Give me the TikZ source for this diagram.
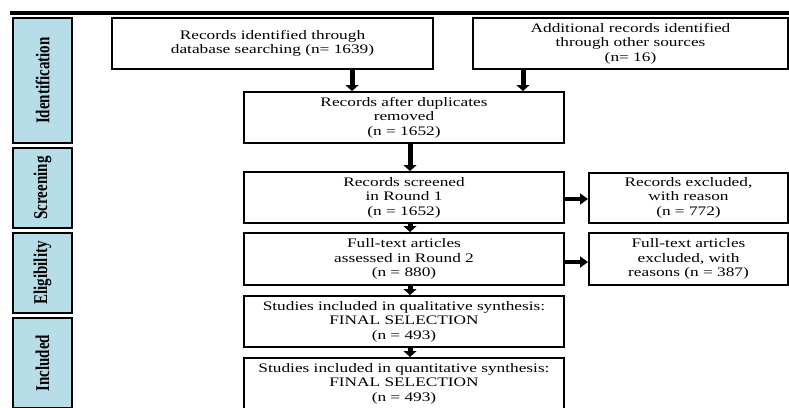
\documentclass[tikz,border=0pt]{standalone}
\usepackage{fontspec}
\setmainfont{Liberation Serif}[FakeStretch=1.33]
\newfontfamily\phasefont{Liberation Serif}
\usetikzlibrary{arrows.meta}
\definecolor{phaseblue}{RGB}{183,222,232}
\tikzset{
  box/.style={draw, line width=2pt, align=center, inner sep=0pt, font=\fontsize{13}{14.5}\selectfont},
  phase/.style={draw, line width=2.6pt, fill=phaseblue, rotate=90, inner sep=0pt, minimum height=59pt,
    font=\phasefont\bfseries\fontsize{15}{16}\selectfont},
  arr/.style={line width=5pt, -{Triangle[width=13pt,length=6pt]}},
  sidearr/.style={line width=4pt, -{Triangle[width=11pt,length=8pt]}},
}
\begin{document}
\begin{tikzpicture}[x=1pt,y=-1pt]
  \useasboundingbox (0,0) rectangle (789,407);
  \clip (0,0) rectangle (789,407);
  % top rule
  \draw[line width=4pt] (10,13) -- (789,13);
  % phases
  \node[phase, minimum width=125pt] (ident) at (42.5,80.5) {\scalebox{1}[1.3]{Identification}};
  \node[phase, minimum width=80pt] (screen) at (42.5,188) {\scalebox{1}[1.3]{Screening}};
  \node[phase, minimum width=80pt] (elig) at (42.5,273) {\scalebox{1}[1.3]{Eligibility}};
  \node[phase, minimum width=90pt] (incl) at (42.5,363) {\scalebox{1}[1.3]{Included}};
  % boxes
  \node[box, minimum width=321pt, minimum height=51pt] (db) at (272.5,43.5)
    {Records identified through\\database searching (n= 1639)};
  \node[box, minimum width=315pt, minimum height=51pt] (other) at (630.5,43.5)
    {Additional records identified\\through other sources\\(n= 16)};
  \node[box, minimum width=320pt, minimum height=51pt] (dup) at (404,117.5)
    {Records after duplicates\\removed\\(n = 1652)};
  \node[box, minimum width=320pt, minimum height=51pt] (round1) at (404,197.5)
    {Records screened\\in Round 1\\(n = 1652)};
  \node[box, minimum width=199pt, minimum height=50pt] (excl1) at (688.5,197.5)
    {Records excluded,\\with reason\\(n = 772)};
  \node[box, minimum width=320pt, minimum height=52pt] (round2) at (404,259)
    {Full-text articles\\assessed in Round 2\\(n = 880)};
  \node[box, minimum width=199pt, minimum height=52pt] (excl2) at (688.5,259)
    {Full-text articles\\excluded, with\\reasons (n = 387)};
  \node[box, minimum width=320pt, minimum height=51pt] (qual) at (404,321.5)
    {Studies included in qualitative synthesis:\\FINAL SELECTION\\(n = 493)};
  \node[box, minimum width=320pt, minimum height=51pt] (quant) at (404,383.5)
    {Studies included in quantitative synthesis:\\FINAL SELECTION\\(n = 493)};
  % arrows
  \draw[arr] ([xshift=79.5pt]db.south) -- ([xshift=-52pt]dup.north);
  \draw[arr] ([xshift=-107.5pt]other.south) -- ([xshift=119pt]dup.north);
  \draw[arr] ([xshift=6pt]dup.south) -- ([xshift=6pt]round1.north);
  \draw[arr] ([xshift=6pt]round1.south) -- ([xshift=6pt]round2.north);
  \draw[arr] ([xshift=6pt]round2.south) -- ([xshift=6pt]qual.north);
  \draw[arr] ([xshift=6pt]qual.south) -- ([xshift=6pt]quant.north);
  \draw[sidearr] ([yshift=-1.5pt]round1.east) -- ([yshift=-1.5pt]excl1.west);
  \draw[sidearr] ([yshift=-3pt]round2.east) -- ([yshift=-3pt]excl2.west);
\end{tikzpicture}
\end{document}
